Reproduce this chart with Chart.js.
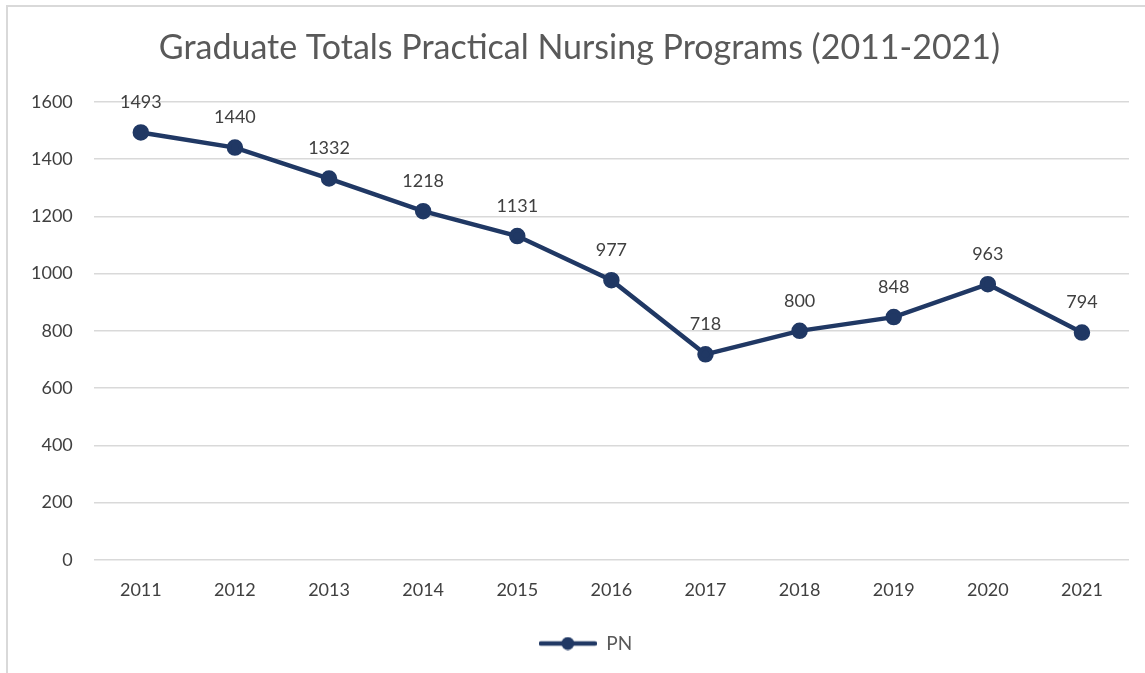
<!DOCTYPE html>
<html>
<head>
<meta charset="utf-8">
<script src="https://cdn.jsdelivr.net/npm/chart.js@4"></script>
<style>
  html, body { margin: 0; padding: 0; background: #fff; overflow: hidden; }
  #frame {
    position: absolute; left: 6px; top: 5px; width: 1139px; height: 668px;
    border-left: 2px solid #d9d9d9; border-top: 2px solid #d9d9d9; box-sizing: border-box;
  }
  #pn { position: absolute; left: 0; top: 0; }
</style>
</head>
<body>
<div id="frame"></div>
<canvas id="pn" width="1145" height="673"></canvas>
<script>
const years = ['2011', '2012', '2013', '2014', '2015', '2016', '2017', '2018', '2019', '2020', '2021'];
const pnTotals = [1493, 1440, 1332, 1218, 1131, 977, 718, 800, 848, 963, 794];
const yTicks = [0, 200, 400, 600, 800, 1000, 1200, 1400, 1600];

const navy = '#203864';
const textGray = '#595959';
const fontFamily = 'Lato, "Open Sans", sans-serif';

// legend marker: a short line with a dot in the middle
const marker = document.createElement('canvas');
marker.width = 58;
marker.height = 14;
(function () {
  const c = marker.getContext('2d');
  c.strokeStyle = navy;
  c.lineWidth = 4.5;
  c.lineCap = 'round';
  c.beginPath();
  c.moveTo(2, 7);
  c.lineTo(56, 7);
  c.stroke();
  c.fillStyle = navy;
  c.beginPath();
  c.arc(29, 7, 6.5, 0, Math.PI * 2);
  c.fill();
})();

const valueLabels = {
  id: 'valueLabels',
  afterDatasetsDraw(chart) {
    const ctx = chart.ctx;
    const meta = chart.getDatasetMeta(0);
    ctx.save();
    ctx.font = '18px ' + fontFamily;
    ctx.fillStyle = '#404040';
    ctx.textAlign = 'center';
    ctx.textBaseline = 'middle';
    meta.data.forEach((pt, i) => {
      ctx.fillText(String(pnTotals[i]), pt.x, pt.y - 30);
    });
    ctx.restore();
  }
};

// the original chart box is a bit wider than the window, so title and legend sit right of centre
const nudgeBlocks = {
  id: 'nudgeBlocks',
  afterLayout(chart) {
    if (chart.titleBlock) {
      chart.titleBlock.left += 10;
      chart.titleBlock.right += 10;
    }
    if (chart.legend) {
      chart.legend.left += 16;
      chart.legend.right += 16;
    }
  }
};

new Chart(document.getElementById('pn'), {
  type: 'line',
  data: {
    labels: years,
    datasets: [{
      label: 'PN',
      data: pnTotals,
      borderColor: navy,
      backgroundColor: navy,
      borderWidth: 4.5,
      tension: 0,
      fill: false,
      pointRadius: 6,
      pointBackgroundColor: navy,
      pointBorderColor: navy
    }]
  },
  options: {
    responsive: false,
    animation: false,
    layout: { padding: { left: 10, right: 16, top: 0, bottom: 10 } },
    plugins: {
      title: {
        display: true,
        text: 'Graduate Totals Practical Nursing Programs (2011-2021)',
        color: textGray,
        font: { family: fontFamily, size: 34, weight: 'normal' },
        padding: { top: 28, bottom: 33 }
      },
      legend: {
        display: true,
        position: 'bottom',
        labels: {
          color: textGray,
          font: { family: fontFamily, size: 19 },
          usePointStyle: true,
          pointStyleWidth: 58,
          padding: 22.5,
          generateLabels: () => [{
            text: 'PN',
            pointStyle: marker,
            fillStyle: navy,
            strokeStyle: navy,
            lineWidth: 0,
            fontColor: textGray,
            datasetIndex: 0
          }]
        }
      },
      tooltip: { enabled: false }
    },
    scales: {
      x: {
        offset: true,
        grid: { display: false },
        border: { display: false },
        ticks: { color: '#404040', font: { family: fontFamily, size: 18 }, padding: 11 }
      },
      y: {
        min: 0,
        max: 1600,
        afterBuildTicks: axis => { axis.ticks = yTicks.map(v => ({ value: v })); },
        grid: { color: '#d9d9d9', lineWidth: 1.5, drawTicks: false },
        border: { display: false },
        ticks: {
          color: '#404040',
          font: { family: fontFamily, size: 18 },
          padding: 21,
          callback: v => String(v)
        }
      }
    }
  },
  plugins: [valueLabels, nudgeBlocks]
});
</script>
</body>
</html>
